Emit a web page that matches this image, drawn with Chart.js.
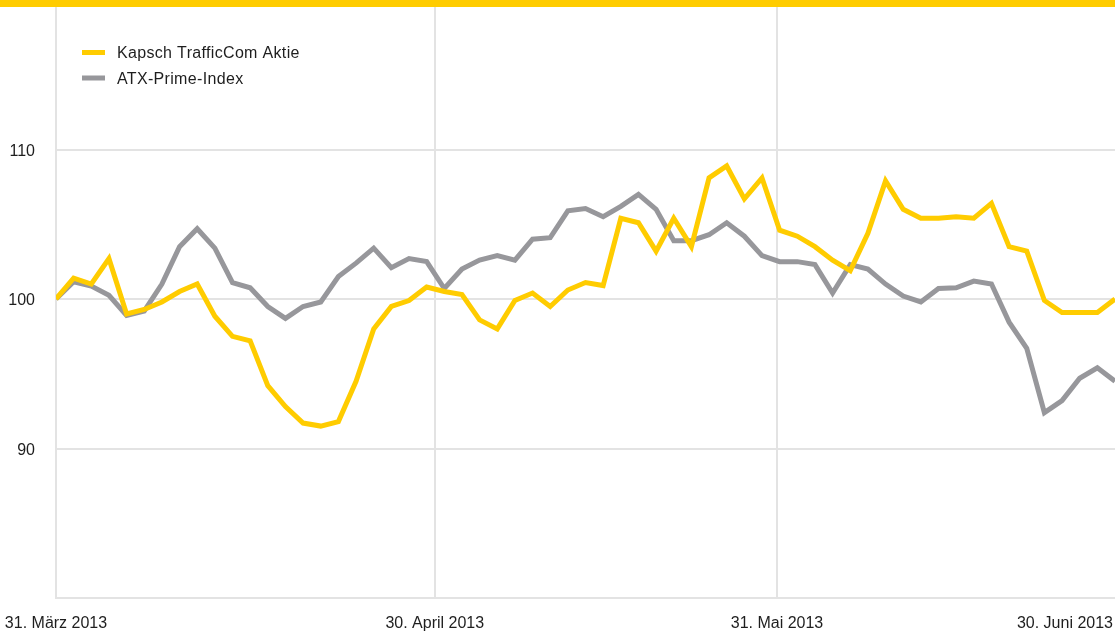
<!DOCTYPE html>
<html>
<head>
<meta charset="utf-8">
<script src="https://cdn.jsdelivr.net/npm/chart.js@4.4.0/dist/chart.umd.min.js"></script>
<style>
  html, body { margin: 0; padding: 0; background: #ffffff; }
  #wrap { position: relative; width: 1115px; height: 632px; }
</style>
</head>
<body>
<div id="wrap"><canvas id="c"></canvas></div>
<script>
// ---- data ----
const seriesNames = ['Kapsch TrafficCom Aktie', 'ATX-Prime-Index'];

const kapsch = [
  100.0, 101.4, 101.0, 102.7, 99.0, 99.3, 99.8, 100.5, 101.0, 98.85,
  97.5, 97.2, 94.2, 92.8, 91.7, 91.5, 91.8, 94.5, 98.0, 99.5,
  99.9, 100.8, 100.5, 100.3, 98.6, 98.0, 99.9, 100.4, 99.5, 100.6,
  101.1, 100.9, 105.4, 105.1, 103.2, 105.4, 103.5, 108.1, 108.9, 106.7,
  108.1, 104.6, 104.2, 103.5, 102.6, 101.9, 104.4, 107.9, 106.0, 105.4,
  105.4, 105.5, 105.4, 106.4, 103.5, 103.2, 99.9, 99.1, 99.1, 99.1,
  100.0
];

const atx = [
  100.0, 101.15, 100.86, 100.25, 98.9, 99.2, 101.0, 103.5, 104.7, 103.4,
  101.1, 100.75, 99.5, 98.7, 99.5, 99.8, 101.5, 102.4, 103.4, 102.1,
  102.7, 102.5, 100.7, 102.0, 102.6, 102.9, 102.6, 104.0, 104.1, 105.9,
  106.05, 105.5, 106.2, 107.0, 106.0, 103.9, 103.9, 104.3, 105.1, 104.2,
  102.9, 102.5, 102.5, 102.3, 100.4, 102.3, 102.0, 101.0, 100.2, 99.8,
  100.7, 100.75, 101.2, 101.0, 98.45, 96.7, 92.4, 93.2, 94.7, 95.4,
  94.5
];

// x ticks: position on the trading-day index axis, and their labels
const xTickPositions = [0, 21.46, 40.85, 60];
const xTickLabels = ['31. März 2013', '30. April 2013', '31. Mai 2013', '30. Juni 2013'];

const yTickValues = [90, 100, 110];
const yMin = 80;
const yMax = 120;

// ---- style ----
const YELLOW = '#ffcc00';
const GREY = '#97979b';
const GRID = '#e3e3e3';
const TEXT = '#1e1e1e';
const FONT = "'Liberation Sans', Arial, Helvetica, sans-serif";

Chart.defaults.font.family = FONT;
Chart.defaults.font.size = 16;
Chart.defaults.color = TEXT;

const toPoints = arr => arr.map((v, i) => ({ x: i, y: v }));

const topBar = {
  id: 'topBar',
  afterDraw(chart) {
    const ctx = chart.ctx;
    ctx.save();
    ctx.fillStyle = YELLOW;
    ctx.fillRect(0, 0, chart.width, 7);
    ctx.restore();
  }
};

const xLabels = {
  id: 'xLabels',
  afterDraw(chart) {
    const ctx = chart.ctx;
    const sx = chart.scales.x;
    ctx.save();
    ctx.font = '16px ' + FONT;
    ctx.fillStyle = TEXT;
    ctx.textBaseline = 'alphabetic';
    ctx.textAlign = 'left';
    xTickPositions.forEach((p, i) => {
      const px = sx.getPixelForValue(p);
      const w = ctx.measureText(xTickLabels[i]).width;
      let left = px - w / 2;
      left = Math.max(2, Math.min(left, chart.width - w - 2));
      ctx.fillText(xTickLabels[i], left, 628);
    });
    ctx.restore();
  }
};

const legendBox = {
  id: 'legendBox',
  afterDraw(chart) {
    const ctx = chart.ctx;
    ctx.save();
    ctx.font = '16px ' + FONT;
    ctx.textBaseline = 'alphabetic';
    ctx.textAlign = 'left';
    if ('letterSpacing' in ctx) ctx.letterSpacing = '0.33px';
    chart.data.datasets.forEach((ds, i) => {
      ctx.fillStyle = ds.borderColor;
      ctx.fillRect(82, 50 + i * 25.5, 23, 5);
      ctx.fillStyle = TEXT;
      ctx.fillText(ds.label, 117, 58.3 + i * 25.7);
    });
    ctx.restore();
  }
};

new Chart(document.getElementById('c'), {
  type: 'line',
  data: {
    datasets: [
      {
        label: seriesNames[0],
        data: toPoints(kapsch),
        borderColor: YELLOW,
        backgroundColor: YELLOW,
        borderWidth: 5,
        pointRadius: 0,
        tension: 0,
        fill: false
      },
      {
        label: seriesNames[1],
        data: toPoints(atx),
        borderColor: GREY,
        backgroundColor: GREY,
        borderWidth: 5,
        pointRadius: 0,
        tension: 0,
        fill: false
      }
    ]
  },
  options: {
    responsive: true,
    maintainAspectRatio: false,
    animation: false,
    layout: { padding: 0 },
    plugins: {
      legend: { display: false },
      tooltip: { enabled: false }
    },
    scales: {
      x: {
        type: 'linear',
        min: 0,
        max: 60,
        afterBuildTicks(scale) {
          scale.ticks = xTickPositions.map(v => ({ value: v }));
        },
        afterFit(scale) {
          scale.height = 34;
          scale.paddingLeft = 0;
          scale.paddingRight = 0;
        },
        ticks: { display: false },
        grid: {
          color: c => (c.index === xTickPositions.length - 1 ? 'rgba(0,0,0,0)' : GRID),
          lineWidth: 2,
          drawTicks: false
        },
        border: { color: GRID, width: 2 }
      },
      y: {
        min: yMin,
        max: yMax,
        afterBuildTicks(scale) {
          scale.ticks = yTickValues.map(v => ({ value: v }));
        },
        afterFit(scale) {
          scale.width = 56;
          scale.paddingTop = 0;
          scale.paddingBottom = 0;
        },
        ticks: {
          padding: 21,
          labelOffset: 2,
          color: TEXT,
          font: { size: 16, family: FONT },
          callback: v => String(v)
        },
        grid: { color: GRID, lineWidth: 2, drawTicks: false },
        border: { color: GRID, width: 2 }
      }
    }
  },
  plugins: [topBar, xLabels, legendBox]
});
</script>
</body>
</html>
